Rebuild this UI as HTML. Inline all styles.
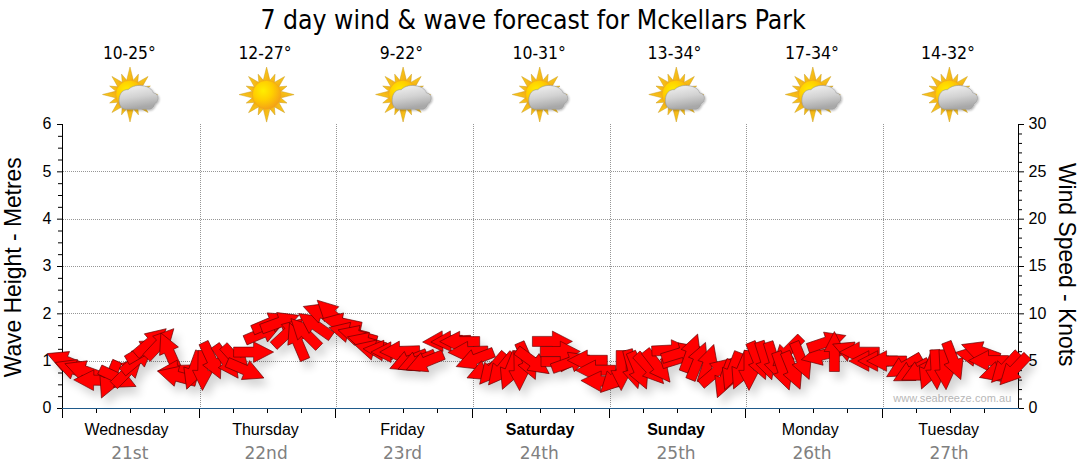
<!DOCTYPE html>
<html><head><meta charset="utf-8"><title>7 day wind &amp; wave forecast for Mckellars Park</title>
<style>html,body{margin:0;padding:0;background:#fff}svg{display:block}.ar{font-family:"Liberation Sans",Arial,sans-serif}.th{font-family:"DejaVu Sans Condensed","DejaVu Sans",sans-serif}.vd{font-family:"DejaVu Sans",sans-serif}</style></head><body>
<svg width="1080" height="475" viewBox="0 0 1080 475">
<defs>
<radialGradient id="sunG" cx="0.38" cy="0.36" r="0.72"><stop offset="0" stop-color="#ffee00"/><stop offset="0.45" stop-color="#ffd000"/><stop offset="1" stop-color="#f39a1a"/></radialGradient>
<linearGradient id="rayG" x1="0" y1="0" x2="1" y2="1"><stop offset="0" stop-color="#fbd21a"/><stop offset="1" stop-color="#f2a814"/></linearGradient>
<linearGradient id="cloudG" x1="0" y1="0" x2="0.25" y2="1"><stop offset="0" stop-color="#f4f4f4"/><stop offset="0.55" stop-color="#d2d2d2"/><stop offset="1" stop-color="#a8a8a8"/></linearGradient>
<filter id="sh" x="-5%" y="-30%" width="110%" height="180%"><feGaussianBlur in="SourceAlpha" stdDeviation="4.5"/><feOffset dx="5" dy="7" result="b"/><feComponentTransfer><feFuncA type="linear" slope="0.17"/></feComponentTransfer><feMerge><feMergeNode/><feMergeNode in="SourceGraphic"/></feMerge></filter>
<filter id="ish" x="-20%" y="-20%" width="150%" height="150%"><feGaussianBlur in="SourceAlpha" stdDeviation="1"/><feOffset dx="0.6" dy="1"/><feComponentTransfer><feFuncA type="linear" slope="0.3"/></feComponentTransfer><feMerge><feMergeNode/><feMergeNode in="SourceGraphic"/></feMerge></filter>
<path id="a" d="M20 0 L0 -10.3 L0 -5 L-20 -5 L-20 5 L0 5 L0 10.3 Z"/>

<g id="sun"><g fill="url(#rayG)" stroke="#c9971a" stroke-width="0.45"><path transform="rotate(0.0)" d="M-3.9 -12 L0 -27.5 L3.9 -12 Z"/><path transform="rotate(22.5)" d="M-3.2 -12 L0 -22 L3.2 -12 Z"/><path transform="rotate(45.0)" d="M-3.7 -12 L0 -25.5 L3.7 -12 Z"/><path transform="rotate(67.5)" d="M-3.2 -12 L0 -22 L3.2 -12 Z"/><path transform="rotate(90.0)" d="M-3.9 -12 L0 -27.5 L3.9 -12 Z"/><path transform="rotate(112.5)" d="M-3.2 -12 L0 -22 L3.2 -12 Z"/><path transform="rotate(135.0)" d="M-3.7 -12 L0 -25.5 L3.7 -12 Z"/><path transform="rotate(157.5)" d="M-3.2 -12 L0 -22 L3.2 -12 Z"/><path transform="rotate(180.0)" d="M-3.9 -12 L0 -27.5 L3.9 -12 Z"/><path transform="rotate(202.5)" d="M-3.2 -12 L0 -22 L3.2 -12 Z"/><path transform="rotate(225.0)" d="M-3.7 -12 L0 -25.5 L3.7 -12 Z"/><path transform="rotate(247.5)" d="M-3.2 -12 L0 -22 L3.2 -12 Z"/><path transform="rotate(270.0)" d="M-3.9 -12 L0 -27.5 L3.9 -12 Z"/><path transform="rotate(292.5)" d="M-3.2 -12 L0 -22 L3.2 -12 Z"/><path transform="rotate(315.0)" d="M-3.7 -12 L0 -25.5 L3.7 -12 Z"/><path transform="rotate(337.5)" d="M-3.2 -12 L0 -22 L3.2 -12 Z"/></g><circle r="14.3" fill="url(#sunG)" stroke="#f0a51c" stroke-width="0.6"/></g>
<g id="cloud"><path d="M-12 11.2 C-17.5 11.2 -19.8 6.5 -19.5 1.5 C-19.3 -4.5 -15.5 -8.8 -10.5 -8.3 C-6.5 -12.5 0 -13 4 -12.2 C9.5 -11.5 13.5 -9 14.7 -5.2 C17.5 -4.8 19.8 -2.5 19.5 0.5 C19.3 3 18 5 16 5.7 C15.5 8.5 14 10.5 11.5 11.2 Z" fill="url(#cloudG)" stroke="#9a9a9a" stroke-width="0.6"/></g>
</defs>
<rect width="1080" height="475" fill="#fff"/>
<g stroke="#969696" stroke-width="1" stroke-dasharray="1 1" shape-rendering="crispEdges"><line x1="200.5" y1="124" x2="200.5" y2="408"/><line x1="336.5" y1="124" x2="336.5" y2="408"/><line x1="473.5" y1="124" x2="473.5" y2="408"/><line x1="610.5" y1="124" x2="610.5" y2="408"/><line x1="746.5" y1="124" x2="746.5" y2="408"/><line x1="883.5" y1="124" x2="883.5" y2="408"/><line x1="63" y1="361.5" x2="1018" y2="361.5"/><line x1="63" y1="313.5" x2="1018" y2="313.5"/><line x1="63" y1="266.5" x2="1018" y2="266.5"/><line x1="63" y1="219.5" x2="1018" y2="219.5"/><line x1="63" y1="171.5" x2="1018" y2="171.5"/></g>
<g stroke="#000" stroke-width="1"><line x1="62.5" y1="124" x2="62.5" y2="418"/><line x1="1018.5" y1="124" x2="1018.5" y2="409"/><line x1="57" y1="408.50" x2="63" y2="408.50"/><line x1="58" y1="396.67" x2="63" y2="396.67"/><line x1="58" y1="384.83" x2="63" y2="384.83"/><line x1="58" y1="373.00" x2="63" y2="373.00"/><line x1="57" y1="361.17" x2="63" y2="361.17"/><line x1="58" y1="349.33" x2="63" y2="349.33"/><line x1="58" y1="337.50" x2="63" y2="337.50"/><line x1="58" y1="325.67" x2="63" y2="325.67"/><line x1="57" y1="313.83" x2="63" y2="313.83"/><line x1="58" y1="302.00" x2="63" y2="302.00"/><line x1="58" y1="290.17" x2="63" y2="290.17"/><line x1="58" y1="278.33" x2="63" y2="278.33"/><line x1="57" y1="266.50" x2="63" y2="266.50"/><line x1="58" y1="254.67" x2="63" y2="254.67"/><line x1="58" y1="242.83" x2="63" y2="242.83"/><line x1="58" y1="231.00" x2="63" y2="231.00"/><line x1="57" y1="219.17" x2="63" y2="219.17"/><line x1="58" y1="207.33" x2="63" y2="207.33"/><line x1="58" y1="195.50" x2="63" y2="195.50"/><line x1="58" y1="183.67" x2="63" y2="183.67"/><line x1="57" y1="171.83" x2="63" y2="171.83"/><line x1="58" y1="160.00" x2="63" y2="160.00"/><line x1="58" y1="148.17" x2="63" y2="148.17"/><line x1="58" y1="136.33" x2="63" y2="136.33"/><line x1="57" y1="124.50" x2="63" y2="124.50"/><line x1="1018" y1="408.50" x2="1024" y2="408.50"/><line x1="1018" y1="399.03" x2="1022" y2="399.03"/><line x1="1018" y1="389.57" x2="1022" y2="389.57"/><line x1="1018" y1="380.10" x2="1022" y2="380.10"/><line x1="1018" y1="370.63" x2="1022" y2="370.63"/><line x1="1018" y1="361.17" x2="1024" y2="361.17"/><line x1="1018" y1="351.70" x2="1022" y2="351.70"/><line x1="1018" y1="342.23" x2="1022" y2="342.23"/><line x1="1018" y1="332.77" x2="1022" y2="332.77"/><line x1="1018" y1="323.30" x2="1022" y2="323.30"/><line x1="1018" y1="313.83" x2="1024" y2="313.83"/><line x1="1018" y1="304.37" x2="1022" y2="304.37"/><line x1="1018" y1="294.90" x2="1022" y2="294.90"/><line x1="1018" y1="285.43" x2="1022" y2="285.43"/><line x1="1018" y1="275.97" x2="1022" y2="275.97"/><line x1="1018" y1="266.50" x2="1024" y2="266.50"/><line x1="1018" y1="257.03" x2="1022" y2="257.03"/><line x1="1018" y1="247.57" x2="1022" y2="247.57"/><line x1="1018" y1="238.10" x2="1022" y2="238.10"/><line x1="1018" y1="228.63" x2="1022" y2="228.63"/><line x1="1018" y1="219.17" x2="1024" y2="219.17"/><line x1="1018" y1="209.70" x2="1022" y2="209.70"/><line x1="1018" y1="200.23" x2="1022" y2="200.23"/><line x1="1018" y1="190.77" x2="1022" y2="190.77"/><line x1="1018" y1="181.30" x2="1022" y2="181.30"/><line x1="1018" y1="171.83" x2="1024" y2="171.83"/><line x1="1018" y1="162.37" x2="1022" y2="162.37"/><line x1="1018" y1="152.90" x2="1022" y2="152.90"/><line x1="1018" y1="143.43" x2="1022" y2="143.43"/><line x1="1018" y1="133.97" x2="1022" y2="133.97"/><line x1="1018" y1="124.50" x2="1024" y2="124.50"/><line x1="96.5" y1="408" x2="96.5" y2="413"/><line x1="130.5" y1="408" x2="130.5" y2="413"/><line x1="164.5" y1="408" x2="164.5" y2="413"/><line x1="199.5" y1="408" x2="199.5" y2="418"/><line x1="233.5" y1="408" x2="233.5" y2="413"/><line x1="267.5" y1="408" x2="267.5" y2="413"/><line x1="301.5" y1="408" x2="301.5" y2="413"/><line x1="335.5" y1="408" x2="335.5" y2="418"/><line x1="369.5" y1="408" x2="369.5" y2="413"/><line x1="403.5" y1="408" x2="403.5" y2="413"/><line x1="437.5" y1="408" x2="437.5" y2="413"/><line x1="472.5" y1="408" x2="472.5" y2="418"/><line x1="506.5" y1="408" x2="506.5" y2="413"/><line x1="540.5" y1="408" x2="540.5" y2="413"/><line x1="574.5" y1="408" x2="574.5" y2="413"/><line x1="609.5" y1="408" x2="609.5" y2="418"/><line x1="643.5" y1="408" x2="643.5" y2="413"/><line x1="677.5" y1="408" x2="677.5" y2="413"/><line x1="711.5" y1="408" x2="711.5" y2="413"/><line x1="745.5" y1="408" x2="745.5" y2="418"/><line x1="779.5" y1="408" x2="779.5" y2="413"/><line x1="813.5" y1="408" x2="813.5" y2="413"/><line x1="847.5" y1="408" x2="847.5" y2="413"/><line x1="882.5" y1="408" x2="882.5" y2="418"/><line x1="916.5" y1="408" x2="916.5" y2="413"/><line x1="950.5" y1="408" x2="950.5" y2="413"/><line x1="984.5" y1="408" x2="984.5" y2="413"/></g>
<line x1="62" y1="408.5" x2="1019" y2="408.5" stroke="#1f5a8b" stroke-width="1.15"/>
<g class="ar" font-size="16" fill="#000"><text x="51.4" y="413.3" text-anchor="end">0</text><text x="51.4" y="366.0" text-anchor="end">1</text><text x="51.4" y="318.6" text-anchor="end">2</text><text x="51.4" y="271.3" text-anchor="end">3</text><text x="51.4" y="224.0" text-anchor="end">4</text><text x="51.4" y="176.6" text-anchor="end">5</text><text x="51.4" y="129.3" text-anchor="end">6</text><text x="1028.5" y="413.3">0</text><text x="1028.5" y="366.0">5</text><text x="1028.5" y="318.6">10</text><text x="1028.5" y="271.3">15</text><text x="1028.5" y="224.0">20</text><text x="1028.5" y="176.6">25</text><text x="1028.5" y="129.3">30</text></g>
<text class="ar" font-size="23.4" fill="#000" text-anchor="middle" textLength="220" lengthAdjust="spacingAndGlyphs" transform="translate(20.6 267.3) rotate(-90)">Wave Height - Metres</text>
<text class="ar" font-size="23.4" fill="#000" text-anchor="middle" textLength="203.5" lengthAdjust="spacingAndGlyphs" transform="translate(1058.6 264.7) rotate(90)">Wind Speed - Knots</text>
<text class="ar" font-size="11" fill="#b8b8b8" x="893.3" y="401.5" textLength="118" lengthAdjust="spacing">www.seabreeze.com.au</text>
<text class="th" font-size="26" fill="#000" x="533.1" y="29.3" text-anchor="middle" textLength="545.4" lengthAdjust="spacingAndGlyphs">7 day wind &amp; wave forecast for Mckellars Park</text>
<text class="ar" font-size="16" fill="#000" x="126.5" y="434.7" text-anchor="middle">Wednesday</text>
<text class="vd" font-size="17" fill="#808080" x="129.8" y="459" text-anchor="middle">21st</text>
<text class="th" font-size="17" fill="#000" x="129.3" y="59.1" text-anchor="middle" textLength="52.8" lengthAdjust="spacingAndGlyphs">10-25°</text>
<use href="#sun" x="130.0" y="94.5"/><g filter="url(#ish)"><use href="#cloud" x="138.6" y="98"/></g>
<text class="ar" font-size="16" fill="#000" x="265.5" y="434.7" text-anchor="middle">Thursday</text>
<text class="vd" font-size="17" fill="#808080" x="266.1" y="459" text-anchor="middle">22nd</text>
<text class="th" font-size="17" fill="#000" x="265.0" y="59.1" text-anchor="middle" textLength="53.2" lengthAdjust="spacingAndGlyphs">12-27°</text>
<use href="#sun" x="266.6" y="94.6"/>
<text class="ar" font-size="16" fill="#000" x="402.4" y="434.7" text-anchor="middle">Friday</text>
<text class="vd" font-size="17" fill="#808080" x="402.6" y="459" text-anchor="middle">23rd</text>
<text class="th" font-size="17" fill="#000" x="401.4" y="59.1" text-anchor="middle" textLength="43.3" lengthAdjust="spacingAndGlyphs">9-22°</text>
<use href="#sun" x="403.1" y="94.5"/><g filter="url(#ish)"><use href="#cloud" x="411.7" y="98"/></g>
<text class="ar" font-size="16" font-weight="bold" fill="#000" x="540.1" y="434.7" text-anchor="middle">Saturday</text>
<text class="vd" font-size="17" fill="#808080" x="539.2" y="459" text-anchor="middle">24th</text>
<text class="th" font-size="17" fill="#000" x="539.2" y="59.1" text-anchor="middle" textLength="53.5" lengthAdjust="spacingAndGlyphs">10-31°</text>
<use href="#sun" x="539.7" y="94.5"/><g filter="url(#ish)"><use href="#cloud" x="548.3" y="98"/></g>
<text class="ar" font-size="16" font-weight="bold" fill="#000" x="676.1" y="434.7" text-anchor="middle">Sunday</text>
<text class="vd" font-size="17" fill="#808080" x="676.1" y="459" text-anchor="middle">25th</text>
<text class="th" font-size="17" fill="#000" x="674.5" y="59.1" text-anchor="middle" textLength="54" lengthAdjust="spacingAndGlyphs">13-34°</text>
<use href="#sun" x="676.3" y="94.5"/><g filter="url(#ish)"><use href="#cloud" x="684.9" y="98"/></g>
<text class="ar" font-size="16" fill="#000" x="810.3" y="434.7" text-anchor="middle">Monday</text>
<text class="vd" font-size="17" fill="#808080" x="812.0" y="459" text-anchor="middle">26th</text>
<text class="th" font-size="17" fill="#000" x="812.0" y="59.1" text-anchor="middle" textLength="54" lengthAdjust="spacingAndGlyphs">17-34°</text>
<use href="#sun" x="812.8" y="94.5"/><g filter="url(#ish)"><use href="#cloud" x="821.4" y="98"/></g>
<text class="ar" font-size="16" fill="#000" x="948.7" y="434.7" text-anchor="middle">Tuesday</text>
<text class="vd" font-size="17" fill="#808080" x="949.1" y="459" text-anchor="middle">27th</text>
<text class="th" font-size="17" fill="#000" x="948.0" y="59.1" text-anchor="middle" textLength="54" lengthAdjust="spacingAndGlyphs">14-32°</text>
<use href="#sun" x="949.4" y="94.5"/><g filter="url(#ish)"><use href="#cloud" x="958.0" y="98"/></g>
<g filter="url(#sh)"><g fill="#ff0000" stroke="#5a0000" stroke-width="0.6" stroke-linejoin="miter">
<use href="#a" transform="translate(65.7 361.1) rotate(202.0)"/>
<use href="#a" transform="translate(74.0 369.3) rotate(200.0)"/>
<use href="#a" transform="translate(83.7 370.5) rotate(200.0)"/>
<use href="#a" transform="translate(93.7 380.2) rotate(181.0)"/>
<use href="#a" transform="translate(109.4 379.7) rotate(113.5)"/>
<use href="#a" transform="translate(117.9 378.0) rotate(25.0)"/>
<use href="#a" transform="translate(128.0 371.0) rotate(315.0)"/>
<use href="#a" transform="translate(137.8 359.2) rotate(320.0)"/>
<use href="#a" transform="translate(144.2 350.3) rotate(330.0)"/>
<use href="#a" transform="translate(151.0 341.7) rotate(319.5)"/>
<use href="#a" transform="translate(160.2 343.3) rotate(313.0)"/>
<use href="#a" transform="translate(169.0 351.2) rotate(246.0)"/>
<use href="#a" transform="translate(177.6 370.4) rotate(178.0)"/>
<use href="#a" transform="translate(176.9 376.3) rotate(195.0)"/>
<use href="#a" transform="translate(193.5 370.4) rotate(110.0)"/>
<use href="#a" transform="translate(202.8 370.5) rotate(91.0)"/>
<use href="#a" transform="translate(212.0 360.7) rotate(65.0)"/>
<use href="#a" transform="translate(226.7 361.8) rotate(55.0)"/>
<use href="#a" transform="translate(236.8 360.9) rotate(48.0)"/>
<use href="#a" transform="translate(245.5 370.1) rotate(23.3)"/>
<use href="#a" transform="translate(253.6 352.1) rotate(0.0)"/>
<use href="#a" transform="translate(263.5 332.5) rotate(337.0)"/>
<use href="#a" transform="translate(271.1 322.4) rotate(337.0)"/>
<use href="#a" transform="translate(280.2 322.2) rotate(340.0)"/>
<use href="#a" transform="translate(288.3 332.1) rotate(317.0)"/>
<use href="#a" transform="translate(297.3 341.2) rotate(247.0)"/>
<use href="#a" transform="translate(305.0 332.7) rotate(225.0)"/>
<use href="#a" transform="translate(315.0 325.0) rotate(215.0)"/>
<use href="#a" transform="translate(322.1 313.3) rotate(200.0)"/>
<use href="#a" transform="translate(331.6 314.1) rotate(224.0)"/>
<use href="#a" transform="translate(341.5 323.0) rotate(192.0)"/>
<use href="#a" transform="translate(348.2 332.3) rotate(194.0)"/>
<use href="#a" transform="translate(357.3 335.4) rotate(196.0)"/>
<use href="#a" transform="translate(366.7 342.4) rotate(196.0)"/>
<use href="#a" transform="translate(374.0 350.0) rotate(195.0)"/>
<use href="#a" transform="translate(383.0 350.5) rotate(185.0)"/>
<use href="#a" transform="translate(390.9 352.1) rotate(180.0)"/>
<use href="#a" transform="translate(399.7 351.4) rotate(178.0)"/>
<use href="#a" transform="translate(408.3 361.0) rotate(157.7)"/>
<use href="#a" transform="translate(416.5 361.6) rotate(157.7)"/>
<use href="#a" transform="translate(424.8 362.2) rotate(157.7)"/>
<use href="#a" transform="translate(442.6 341.2) rotate(177.5)"/>
<use href="#a" transform="translate(450.8 341.2) rotate(177.5)"/>
<use href="#a" transform="translate(459.7 341.6) rotate(180.0)"/>
<use href="#a" transform="translate(467.9 351.7) rotate(178.0)"/>
<use href="#a" transform="translate(474.9 359.4) rotate(159.0)"/>
<use href="#a" transform="translate(485.5 370.2) rotate(157.5)"/>
<use href="#a" transform="translate(492.5 368.9) rotate(130.0)"/>
<use href="#a" transform="translate(501.1 369.4) rotate(129.0)"/>
<use href="#a" transform="translate(509.9 370.8) rotate(112.0)"/>
<use href="#a" transform="translate(519.2 370.6) rotate(89.0)"/>
<use href="#a" transform="translate(527.4 361.1) rotate(66.6)"/>
<use href="#a" transform="translate(533.0 361.9) rotate(36.0)"/>
<use href="#a" transform="translate(552.4 341.4) rotate(0.0)"/>
<use href="#a" transform="translate(561.0 361.6) rotate(0.0)"/>
<use href="#a" transform="translate(560.3 351.5) rotate(0.0)"/>
<use href="#a" transform="translate(570.9 362.0) rotate(340.6)"/>
<use href="#a" transform="translate(587.3 360.3) rotate(180.0)"/>
<use href="#a" transform="translate(595.5 370.3) rotate(180.0)"/>
<use href="#a" transform="translate(600.9 381.2) rotate(182.0)"/>
<use href="#a" transform="translate(614.5 378.2) rotate(134.4)"/>
<use href="#a" transform="translate(621.2 370.6) rotate(90.0)"/>
<use href="#a" transform="translate(632.7 369.3) rotate(75.0)"/>
<use href="#a" transform="translate(638.7 370.6) rotate(67.0)"/>
<use href="#a" transform="translate(650.0 369.0) rotate(47.0)"/>
<use href="#a" transform="translate(657.7 366.4) rotate(52.0)"/>
<use href="#a" transform="translate(671.8 350.0) rotate(357.0)"/>
<use href="#a" transform="translate(681.0 358.0) rotate(343.0)"/>
<use href="#a" transform="translate(681.1 352.7) rotate(343.0)"/>
<use href="#a" transform="translate(690.8 352.9) rotate(290.0)"/>
<use href="#a" transform="translate(698.0 361.0) rotate(292.0)"/>
<use href="#a" transform="translate(707.8 363.6) rotate(287.4)"/>
<use href="#a" transform="translate(716.2 371.5) rotate(319.5)"/>
<use href="#a" transform="translate(724.5 379.0) rotate(111.0)"/>
<use href="#a" transform="translate(732.0 371.1) rotate(111.3)"/>
<use href="#a" transform="translate(741.4 370.5) rotate(113.0)"/>
<use href="#a" transform="translate(749.0 370.4) rotate(90.0)"/>
<use href="#a" transform="translate(758.0 361.0) rotate(68.0)"/>
<use href="#a" transform="translate(765.6 360.8) rotate(72.0)"/>
<use href="#a" transform="translate(774.1 361.3) rotate(72.7)"/>
<use href="#a" transform="translate(787.1 351.7) rotate(135.0)"/>
<use href="#a" transform="translate(782.8 371.1) rotate(71.3)"/>
<use href="#a" transform="translate(792.6 370.7) rotate(68.0)"/>
<use href="#a" transform="translate(801.7 360.9) rotate(68.0)"/>
<use href="#a" transform="translate(820.8 355.2) rotate(167.0)"/>
<use href="#a" transform="translate(826.9 341.9) rotate(341.3)"/>
<use href="#a" transform="translate(834.4 351.5) rotate(270.0)"/>
<use href="#a" transform="translate(851.2 351.6) rotate(202.0)"/>
<use href="#a" transform="translate(859.3 352.2) rotate(180.0)"/>
<use href="#a" transform="translate(868.9 361.0) rotate(180.0)"/>
<use href="#a" transform="translate(877.7 361.0) rotate(180.0)"/>
<use href="#a" transform="translate(886.6 361.0) rotate(180.0)"/>
<use href="#a" transform="translate(903.9 366.7) rotate(150.0)"/>
<use href="#a" transform="translate(911.2 371.4) rotate(152.0)"/>
<use href="#a" transform="translate(919.5 371.0) rotate(153.0)"/>
<use href="#a" transform="translate(928.9 370.4) rotate(111.7)"/>
<use href="#a" transform="translate(936.0 369.7) rotate(86.7)"/>
<use href="#a" transform="translate(945.0 369.7) rotate(87.0)"/>
<use href="#a" transform="translate(953.6 360.9) rotate(69.0)"/>
<use href="#a" transform="translate(975.0 356.0) rotate(190.0)"/>
<use href="#a" transform="translate(980.4 351.4) rotate(200.0)"/>
<use href="#a" transform="translate(988.5 360.6) rotate(180.0)"/>
<use href="#a" transform="translate(998.5 371.6) rotate(163.0)"/>
<use href="#a" transform="translate(1005.1 367.8) rotate(133.0)"/>
<use href="#a" transform="translate(1013.7 370.3) rotate(133.6)"/>
</g></g>
</svg></body></html>
